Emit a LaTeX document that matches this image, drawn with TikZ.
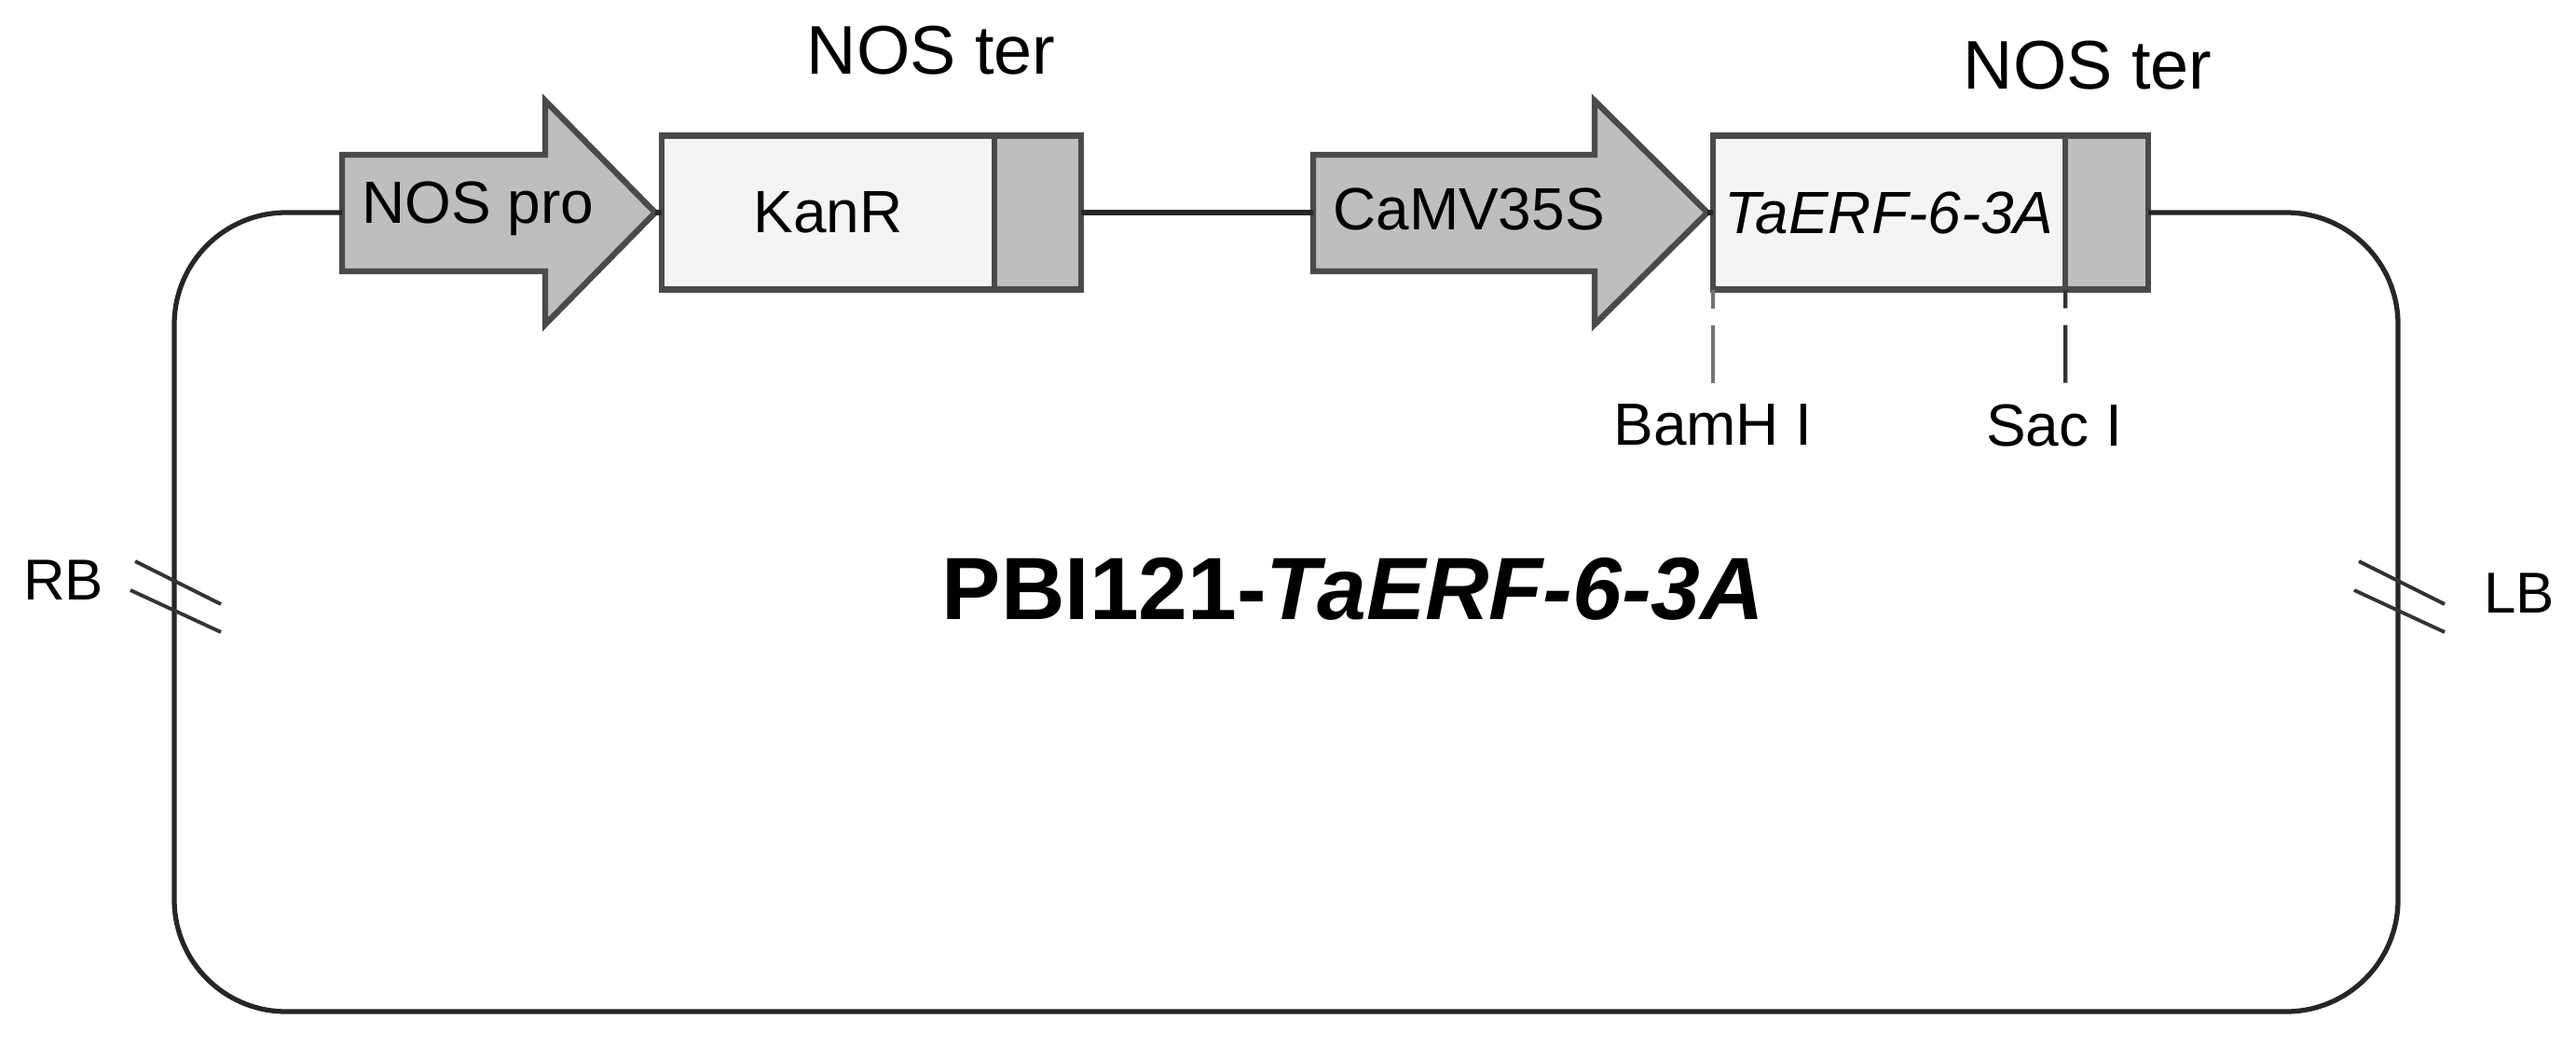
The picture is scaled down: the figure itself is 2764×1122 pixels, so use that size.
\documentclass[tikz,border=0pt]{standalone}
\usepackage{fontspec}
\setmainfont{Liberation Sans}
\usetikzlibrary{positioning}
\definecolor{genefill}{HTML}{F4F4F4}
\definecolor{partfill}{HTML}{BEBEBE}
\definecolor{edgegray}{HTML}{4A4A4A}

\begin{document}
\begin{tikzpicture}[x=0.1mm, y=-0.1mm,
  backbone/.style={line width=1.5pt, black!85},
  promoter/.style={draw=edgegray, line width=1.8pt, fill=partfill, line join=miter},
  gene/.style={draw=edgegray, line width=1.8pt, fill=genefill, minimum height=16.5mm, inner sep=0pt, outer sep=0pt, font=\fontsize{18.2}{20}\selectfont},
  terminator/.style={gene, fill=partfill},
  partlabel/.style={inner sep=0pt, font=\fontsize{18.2}{20}\selectfont},
  termlabel/.style={inner sep=0pt, font=\fontsize{21}{24}\selectfont},
  endlabel/.style={inner sep=0pt, font=\fontsize{17.6}{20}\selectfont},
  cutline/.style={line width=1.3pt, black!80, dash pattern=on 2mm off 1.8mm on 6.2mm},
  breakmark/.style={line width=1.1pt, black!80}
]
  \useasboundingbox (0,0) rectangle (2764,1122);

  % promoter arrows
  \foreach \xa/\xb/\xc/\nm in {367/585/703/pnos, 1409/1711/1832/p35s} {
    \draw[promoter] (\xa,166) -- (\xb,166) -- (\xb,108) -- (\xc,228) -- (\xb,348) -- (\xb,291) -- (\xa,291) -- cycle;
    \coordinate (\nm-tail) at (\xa,228);
    \coordinate (\nm-tip) at (\xc,228);
  }
  \node[partlabel] (pnoslbl) at (513,224) {NOS pro};
  \node[partlabel] (p35slbl) at (1576,224) {CaMV35S};

  % coding regions and terminators
  \node[gene, minimum width=35.7mm, anchor=west] (kanr) at (710,228) {KanR};
  \node[terminator, minimum width=9.3mm, right=0pt of kanr] (nos1) {};
  \node[gene, minimum width=37.8mm, anchor=west] (taerf) at (1838,228) {\itshape TaERF-6-3A};
  \node[terminator, minimum width=8.9mm, right=0pt of taerf] (nos2) {};

  \node[termlabel] (nos1lbl) at (999,54) {NOS ter};
  \node[termlabel] (nos2lbl) at (2240,70) {NOS ter};

  % backbone
  \coordinate (loopbr) at (2573,1085);
  \coordinate (looptl) at (187,228);
  \draw[backbone, rounded corners=12mm] (nos2.east) -| (loopbr) -| (looptl) -- (pnos-tail);
  \draw[backbone] (nos1.east) -- (p35s-tail);
  \draw[backbone] (pnos-tip) -- (kanr.west);
  \draw[backbone] (p35s-tip) -- (taerf.west);

  % restriction sites
  \coordinate (bamh) at (1838,413);
  \coordinate (sac) at (2216,413);
  \draw[cutline, black!55] (taerf.south west) -- (bamh);
  \draw[cutline] (nos2.south west) -- (sac);
  \node[partlabel, below=2mm of bamh] (bamhlbl) {BamH I};
  \node[partlabel, below=2mm of sac, xshift=-1.2mm] (saclbl) {Sac I};

  % borders
  \coordinate (rb) at (187,640);
  \coordinate (lb) at (2573,640);
  \foreach \c in {rb, lb}
    \draw[breakmark, shift={(\c)}] (-42,-38) -- (50,8) (-47,-7) -- (50,38);
  \node[endlabel] (rblbl) at (68,622) {RB};
  \node[endlabel] (lblbl) at (2703,636) {LB};

  \node[inner sep=0pt, font=\fontsize{27}{30}\selectfont\bfseries] (vector) at (1452,632) {PBI121-\textit{TaERF-6-3A}};
\end{tikzpicture}
\end{document}
